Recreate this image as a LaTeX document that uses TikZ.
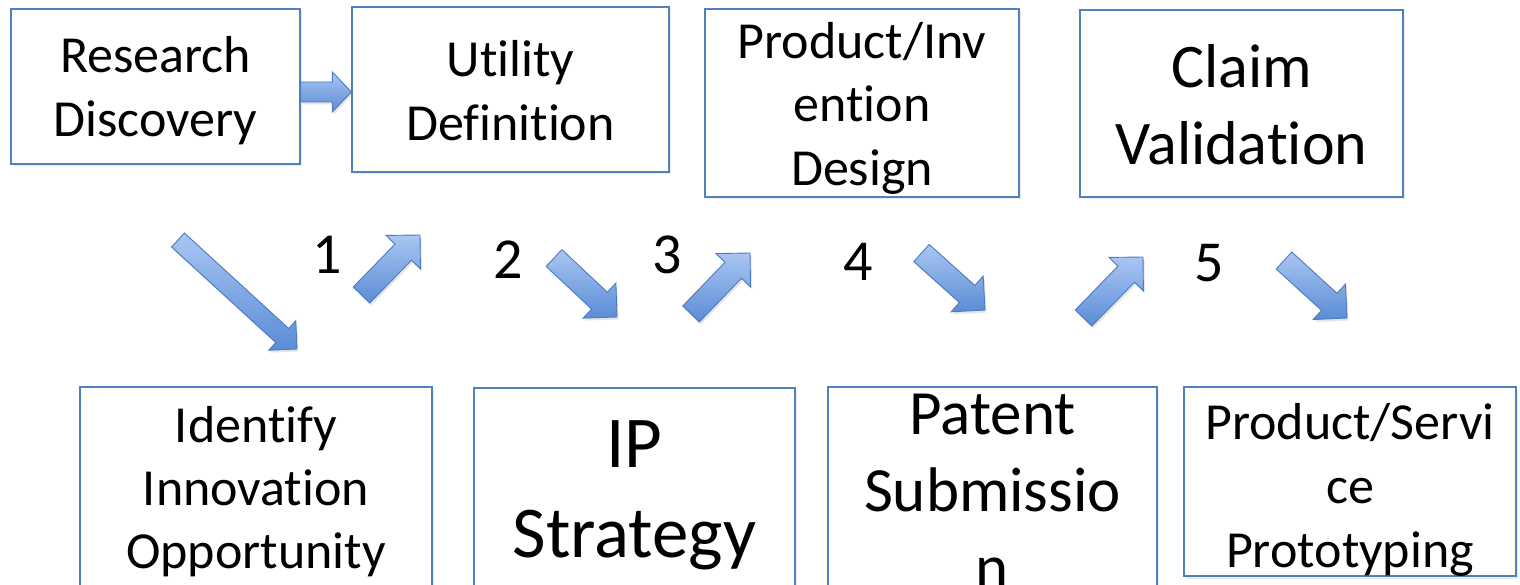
\documentclass[tikz,border=0pt]{standalone}
\usepackage{fontspec}
\setmainfont{Carlito}[Ligatures={NoCommon}]
\usetikzlibrary{calc,shadows}
\definecolor{boxblue}{HTML}{4F81BD}
\definecolor{arrlight}{HTML}{A9C6F2}
\definecolor{arrdark}{HTML}{5B8CD6}
\definecolor{arrline}{HTML}{4A7CC0}
\tikzset{
  box/.style={draw=boxblue, line width=1.3pt, fill=white, inner sep=0pt,
    drop shadow={opacity=0.15, shadow xshift=1.5pt, shadow yshift=-2.5pt}},
  lbl/.style={anchor=base, inner sep=0pt, text=black},
  fA/.style={font=\fontsize{52pt}{62pt}\selectfont},
  fB/.style={font=\fontsize{62pt}{74pt}\selectfont},
  fC/.style={font=\fontsize{73pt}{88pt}\selectfont},
  fD/.style={font=\fontsize{63pt}{76pt}\selectfont},
  fN/.style={font=\fontsize{58pt}{70pt}\selectfont},
  blockarr/.style={draw=arrline, line width=0.9pt, top color=arrlight, bottom color=arrdark,
    line join=miter, drop shadow={opacity=0.2, shadow xshift=1.5pt, shadow yshift=-2.5pt}}
}
% #1 tail, #2 tip, #3 shaft half width, #4 head half width, #5 head length
\newcommand\blockarrow[5]{%
  \coordinate (ba-base) at ($(#2)!#5!(#1)$);
  \path[blockarr] ($(#1)!#3!90:(#2)$) -- ($(ba-base)!#3!90:(#2)$) -- ($(ba-base)!#4!90:(#2)$)
    -- (#2) -- ($(ba-base)!#4!-90:(#2)$) -- ($(ba-base)!#3!-90:(#2)$) -- ($(#1)!#3!-90:(#2)$) -- cycle;
}
\begin{document}
\begin{tikzpicture}[x=1pt,y=-1pt]
\useasboundingbox (0,0) rectangle (1520,585);
\fill[white] (0,0) rectangle (1520,585);

% boxes
\node[box, minimum width=289pt, minimum height=155pt] (b1) at (155.5,86.5) {};
\node[box, minimum width=317pt, minimum height=165pt] (b2) at (510.5,89.5) {};
\node[box, minimum width=314pt, minimum height=188pt] (b3) at (862,103) {};
\node[box, minimum width=323pt, minimum height=187pt] (b4) at (1241.5,103.5) {};
\node[box, minimum width=352pt, minimum height=233pt] (b5) at (256,503.5) {};
\node[box, minimum width=321pt, minimum height=232pt] (b6) at (634.5,504) {};
\node[box, minimum width=329pt, minimum height=233pt] (b7) at (992.5,503.5) {};
\node[box, minimum width=332pt, minimum height=189pt] (b8) at (1350,481.5) {};

% texts
\node[lbl,fA] (t1a) at (155.5,73) {Research};
\node[lbl,fA] (t1b) at (155.5,137) {Discovery};
\node[lbl,fA] (t2a) at (510.5,77) {Utility};
\node[lbl,fA] (t2b) at (510.5,141) {Definition};
\node[lbl,fA] (t3a) at (862,59) {Product/Inv};
\node[lbl,fA] (t3b) at (862,122) {ention};
\node[lbl,fA] (t3c) at (862,186) {Design};
\node[lbl,fB] (t4a) at (1241.5,88) {Claim};
\node[lbl,fB] (t4b) at (1241.5,165) {Validation};
\node[lbl,fA] (t5a) at (256,442) {Identify};
\node[lbl,fA] (t5b) at (256,505) {Innovation};
\node[lbl,fA] (t5c) at (256,568) {Opportunity};
\node[lbl,fC] (t6a) at (634.5,467) {IP};
\node[lbl,fC] (t6b) at (634.5,557) {Strategy};
\node[lbl,fD] (t7a) at (992.5,434) {Patent};
\node[lbl,fD] (t7b) at (992.5,511) {Submissio};
\node[lbl,fD] (t7c) at (992.5,588) {n};
\node[lbl,fA] (t8a) at (1350,439) {Product/Servi};
\node[lbl,fA] (t8b) at (1350,503) {ce};
\node[lbl,fA] (t8c) at (1350,567) {Prototyping};

% step numbers
\node[lbl,fN] (n1) at (327,273) {1};
\node[lbl,fN] (n2) at (508,279) {2};
\node[lbl,fN] (n3) at (667,274) {3};
\node[lbl,fN] (n4) at (858,280) {4};
\node[lbl,fN] (n5) at (1209,282) {5};

% arrow end points
\coordinate (a0s) at (b1.east |- 0,92);
\coordinate (a0e) at (b2.west |- 0,92);
\coordinate (a1s) at (178,240);   \coordinate (a1e) at (297,349);
\coordinate (a2s) at (361.5,295); \coordinate (a2e) at (420,235);
\coordinate (a3s) at (554,258);   \coordinate (a3e) at (617,317);
\coordinate (a4s) at (691,314);   \coordinate (a4e) at (750,253);
\coordinate (a5s) at (921.5,253); \coordinate (a5e) at (985,310);
\coordinate (a6s) at (1083.5,318);\coordinate (a6e) at (1143,257);
\coordinate (a7s) at (1284,260.5);\coordinate (a7e) at (1347,318);

\blockarrow{a0s}{a0e}{10pt}{20pt}{19pt}
\blockarrow{a1s}{a1e}{9.5pt}{20pt}{20pt}
\blockarrow{a2s}{a2e}{11.5pt}{24pt}{24pt}
\blockarrow{a3s}{a3e}{11.5pt}{24pt}{24pt}
\blockarrow{a4s}{a4e}{11.5pt}{24pt}{24pt}
\blockarrow{a5s}{a5e}{11.5pt}{24pt}{24pt}
\blockarrow{a6s}{a6e}{11.5pt}{24pt}{24pt}
\blockarrow{a7s}{a7e}{11.5pt}{24pt}{24pt}
\end{tikzpicture}
\end{document}
